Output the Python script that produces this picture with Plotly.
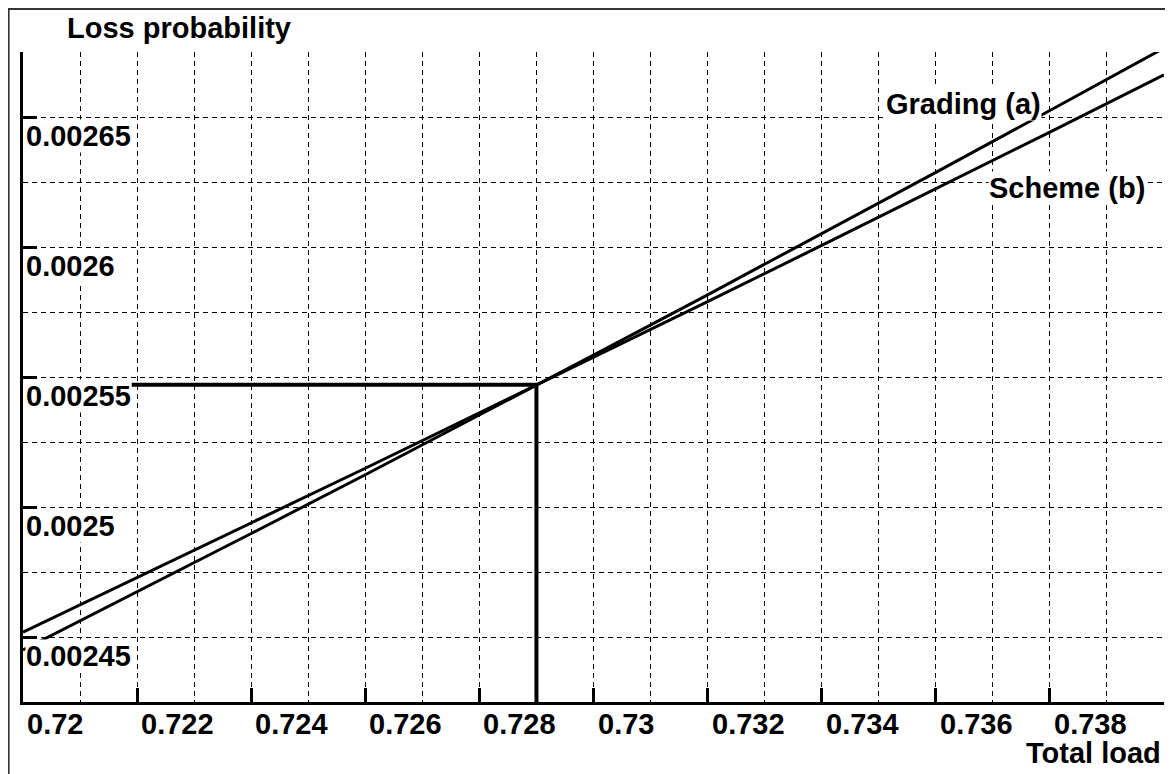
import plotly.graph_objects as go

# ---- data ----
load_grid = [0.720, 0.722, 0.724, 0.726, 0.728, 0.730, 0.732, 0.734, 0.736, 0.738, 0.740]
grading_a = [0.0024450, 0.0024673, 0.0024898, 0.0025124, 0.0025353, 0.0025584,
             0.0025816, 0.0026051, 0.0026287, 0.0026525, 0.0026765]
scheme_b = [0.0024519, 0.0024728, 0.0024938, 0.0025149, 0.0025362, 0.0025575,
            0.0025790, 0.0026006, 0.0026223, 0.0026442, 0.0026662]

cross_x = 0.729
cross_y = 0.002547
hline_start_x = 0.7219

x_tick_vals = [0.720, 0.722, 0.724, 0.726, 0.728, 0.730, 0.732, 0.734, 0.736, 0.738]
x_tick_text = ["0.72", "0.722", "0.724", "0.726", "0.728", "0.73", "0.732", "0.734", "0.736", "0.738"]
y_tick_vals = [0.00245, 0.0025, 0.00255, 0.0026, 0.00265]
y_tick_text = ["0.00245", "0.0025", "0.00255", "0.0026", "0.00265"]

x_range = [0.72, 0.74]
y_range = [0.002425, 0.002675]

FONT = "Liberation Sans, Arial, sans-serif"
FS = 29

fig = go.Figure()

fig.add_trace(go.Scatter(x=load_grid, y=scheme_b, mode="lines",
                         line=dict(color="black", width=3), showlegend=False))
fig.add_trace(go.Scatter(x=load_grid, y=grading_a, mode="lines",
                         line=dict(color="black", width=3), showlegend=False))
# reference lines at the crossing point
fig.add_trace(go.Scatter(x=[hline_start_x, cross_x, cross_x], y=[cross_y, cross_y, y_range[0]],
                         mode="lines", line=dict(color="black", width=4), showlegend=False))

grid_common = dict(gridcolor="black", gridwidth=1, griddash="5px,4px")

fig.update_xaxes(
    range=x_range, tickmode="array", tickvals=x_tick_vals[1:], showticklabels=False,
    ticks="inside", ticklen=14, tickwidth=3, tickcolor="black",
    showline=True, linecolor="black", linewidth=3, zeroline=False,
    showgrid=True, **grid_common,
    minor=dict(tickmode="linear", tick0=0.72, dtick=0.001, showgrid=True, ticks="", **grid_common),
)
fig.update_yaxes(
    range=y_range, tickmode="array", tickvals=y_tick_vals, showticklabels=False,
    ticks="inside", ticklen=14, tickwidth=3, tickcolor="black",
    showline=True, linecolor="black", linewidth=3, zeroline=False,
    showgrid=True, **grid_common,
    minor=dict(tickmode="linear", tick0=0.002425, dtick=0.000025, showgrid=True, ticks="", **grid_common),
)

annotations = []
for v, t in zip(x_tick_vals, x_tick_text):
    annotations.append(dict(x=v, y=0, xref="x", yref="paper", text=f"<b>{t}</b>",
                            xanchor="left", yanchor="middle", xshift=2, yshift=-22,
                            showarrow=False, font=dict(family=FONT, size=FS, color="black")))
for v, t in zip(y_tick_vals, y_tick_text):
    annotations.append(dict(x=x_range[0], y=v, xref="x", yref="y", text=f"<b>{t}</b>",
                            xanchor="left", yanchor="middle", xshift=2, yshift=-19,
                            bgcolor="white", borderpad=0,
                            showarrow=False, font=dict(family=FONT, size=FS, color="black")))

annotations.append(dict(x=0.0368, y=1.037, xref="paper", yref="paper", text="<b>Loss probability</b>",
                        xanchor="left", yanchor="middle", showarrow=False,
                        font=dict(family=FONT, size=FS, color="black")))
annotations.append(dict(x=0.9991, y=-0.0785, xref="paper", yref="paper", text="<b>Total load</b>",
                        xanchor="right", yanchor="middle", showarrow=False,
                        font=dict(family=FONT, size=FS, color="black")))
annotations.append(dict(x=0.73511, y=0.002655, xref="x", yref="y", text="<b>Grading (a)</b>",
                        xanchor="left", yanchor="middle", showarrow=False, bgcolor="white", borderpad=0,
                        font=dict(family=FONT, size=FS, color="black")))
annotations.append(dict(x=0.73692, y=0.0026227, xref="x", yref="y", text="<b>Scheme (b)</b>",
                        xanchor="left", yanchor="middle", showarrow=False, bgcolor="white", borderpad=0,
                        font=dict(family=FONT, size=FS, color="black")))

# page body adds an 8px offset, so the figure is 8px smaller than the window
fig.update_layout(
    width=1165, height=766,
    margin=dict(l=15, r=9, t=44, b=72),
    paper_bgcolor="white", plot_bgcolor="white",
    annotations=annotations,
    shapes=[dict(type="rect", xref="paper", yref="paper",
                 x0=-0.0126, x1=1.05, y0=-0.2, y1=1.0662,
                 line=dict(color="#333333", width=2), layer="below")],
    showlegend=False,
)

fig.write_html("out.html")
